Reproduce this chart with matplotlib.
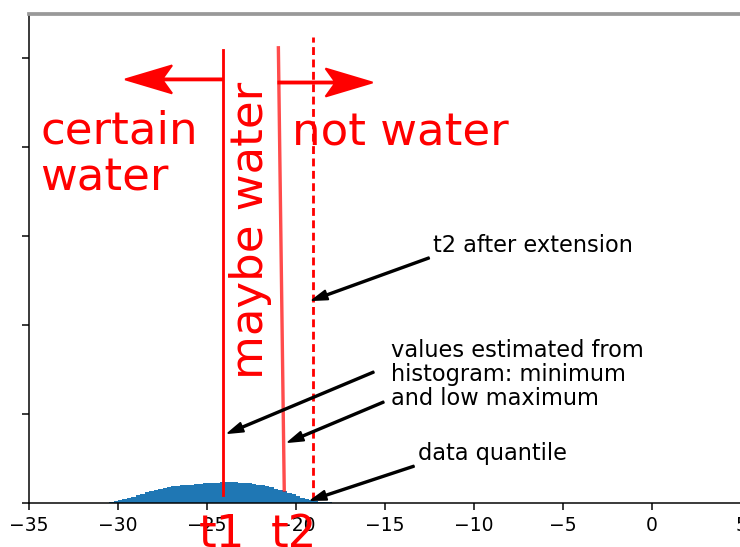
import numpy as np
import matplotlib
matplotlib.use("Agg")
from matplotlib import pyplot as plt

# histogram of the backscatter values
bin_edges = np.arange(-30.5, -17.9, 0.25)
counts = [0.006, 0.017, 0.028, 0.039, 0.054, 0.067, 0.084, 0.101, 0.116, 0.129,
          0.143, 0.154, 0.164, 0.172, 0.180, 0.187, 0.192, 0.198, 0.202, 0.207,
          0.211, 0.215, 0.218, 0.220, 0.222, 0.225, 0.225, 0.225, 0.225, 0.224,
          0.220, 0.216, 0.210, 0.202, 0.193, 0.182, 0.169, 0.155, 0.140, 0.124,
          0.107, 0.090, 0.073, 0.056, 0.039, 0.025, 0.015, 0.009, 0.006, 0.003]

# thresholds
t1 = -24.1
t1_y = [0.084, 5.08]
t2_x = [-20.66, -20.99]
t2_y = [0.14, 5.11]
t2_ext = -19.07
t2_ext_y = [0.03, 5.23]

xticks = [-35, -30, -25, -20, -15, -10, -5, 0, 5]
yticks = [0, 1, 2, 3, 4, 5]

fig = plt.figure(figsize=(740 / 135, 547 / 135), dpi=135)
ax = fig.add_axes([29 / 740, 44.5 / 547, 712 / 740, 488.5 / 547])

ax.stairs(counts, bin_edges, fill=True, color="#1f77b4")

ax.plot([t1, t1], t1_y, color="red", lw=1.5)
ax.plot(t2_x, t2_y, color="red", lw=1.8, alpha=0.7)
ax.plot([t2_ext, t2_ext], t2_ext_y, color="red", lw=1.5, linestyle=(0, (2.8, 1.6)))

# big arrows for the classes
ax.arrow(t1, 4.755, -29.6 - t1, 0, width=0.022, head_width=0.315, head_length=2.64,
         length_includes_head=True, overhang=0.2, color="red")
ax.arrow(t2_x[1], 4.72, -15.7 - t2_x[1], 0, width=0.022, head_width=0.315, head_length=2.64,
         length_includes_head=True, overhang=0.2, color="red")

ax.text(-34.38, 3.51, "certain\nwater", color="red", fontsize=24, va="baseline", linespacing=1.1)
ax.text(-20.2, 4.017, "not water", color="red", fontsize=24, va="baseline")
ax.text(-22.56, 3.06, "maybe water", color="red", fontsize=24, rotation=90, ha="center", va="center")
ax.text(-24.17, -0.5, "t1", color="red", fontsize=24, ha="center", va="baseline")
ax.text(-20.12, -0.5, "t2", color="red", fontsize=24, ha="center", va="baseline")

arrow = dict(facecolor="black", width=0.8, headwidth=5, headlength=8, shrink=0.0)

ax.annotate("t2 after extension", xy=(t2_ext, 2.275), xytext=(-12.32, 2.82),
            fontsize=12, va="baseline", arrowprops=arrow)

ax.text(-14.68, 1.095, "values estimated from\nhistogram: minimum\nand low maximum",
        fontsize=12, va="baseline", linespacing=1.05)
ax.annotate("", xy=(-23.8, 0.781), xytext=(-15.64, 1.466), arrowprops=arrow)
ax.annotate("", xy=(-20.42, 0.68), xytext=(-15.08, 1.129), arrowprops=arrow)

ax.annotate("data quantile", xy=(-19.13, 0.028), xytext=(-13.17, 0.478),
            fontsize=12, va="baseline", arrowprops=arrow)

ax.set_xlim(-35, 5)
ax.set_ylim(0, 5.49)
ax.set_xticks(xticks)
ax.set_yticks(yticks)
ax.set_yticklabels([])
ax.spines["top"].set_color("#999999")
ax.spines["top"].set_linewidth(2)

fig.savefig("out.png", dpi=135)
